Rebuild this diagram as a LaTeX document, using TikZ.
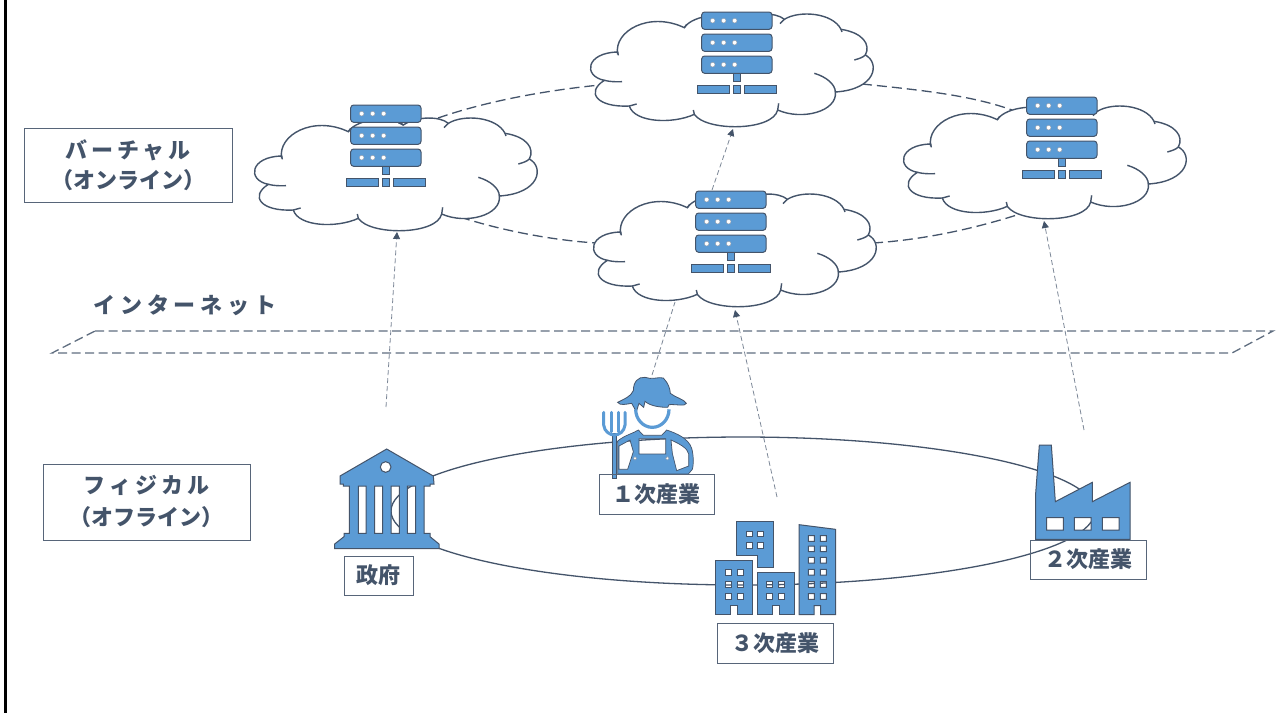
\documentclass[tikz,border=0pt]{standalone}
\usepackage{fontspec}
\setmainfont{Noto Sans CJK JP}
\usetikzlibrary{arrows.meta}
\definecolor{ink}{HTML}{44546A}
\definecolor{icon}{HTML}{5B9BD5}
\tikzset{
  lbl/.style={draw=ink!90,line width=1pt,text=ink,font=\bfseries\fontsize{22}{30}\selectfont,align=center,inner sep=0pt,minimum width=#1},
  outline/.style={draw=ink,line width=1.4pt,fill=white},
  inner line/.style={draw=ink,line width=1.4pt},
  iconshape/.style={draw=ink,line width=1pt,fill=icon,even odd rule},
  link/.style={draw=ink,line width=1.3pt,dash pattern=on 10pt off 5pt},
  planeline/.style={draw=ink!85,line width=1.3pt,dash pattern=on 9pt off 4.5pt},
  rise/.style={draw=ink!70,line width=.8pt,dash pattern=on 5pt off 3pt,-{Triangle[length=7pt,width=7pt,color=ink]}},
  zoomed/.style={x=.33333pt,y=-.33333pt},
}
% #1,#2 cloud offset, #3,#4 server offset
\newcommand{\cloudserver}[4]{%
\begin{scope}[shift={(#1+240,#2+90)},zoomed]
 \path[outline] (125,205) .. controls (112,135) and (220,75) .. (325,125)
   .. controls (350,85) and (460,75) .. (490,105)
   .. controls (530,78) and (600,78) .. (625,100)
   .. controls (670,72) and (770,80) .. (795,130)
   .. controls (860,140) and (885,175) .. (868,207)
   .. controls (912,230) and (902,310) .. (778,318)
   .. controls (785,375) and (680,405) .. (605,372)
   .. controls (590,436) and (390,437) .. (355,385)
   .. controls (290,415) and (175,410) .. (160,360)
   .. controls (65,365) and (27,320) .. (85,283)
   .. controls (20,270) and (30,200) .. (125,198)
   -- cycle;
 \path[inner line] (325,125) -- (332,115);
 \path[inner line] (490,105) -- (475,98);
 \path[inner line] (625,100) -- (612,113);
 \path[inner line] (795,130) -- (798,138);
 \path[inner line] (868,207) .. controls (860,215) and (848,218) .. (835,222);
 \path[inner line] (778,318) .. controls (778,295) and (750,272) .. (715,262);
 \path[inner line] (605,372) -- (608,352);
 \path[inner line] (355,385) -- (352,372);
 \path[inner line] (160,360) -- (182,354);
 \path[inner line] (85,283) .. controls (100,287) and (120,288) .. (138,287);
 \path[inner line] (125,198) -- (127,208);
\end{scope}
\begin{scope}[shift={(#3+240,#4+90)},zoomed]
 \foreach \y in {45,111,177}{
  \path[iconshape,rounded corners=3pt] (332,\y) rectangle (543,\y+52);
  \foreach \x in {365,398,431} \path[draw=ink!60,line width=.4pt,fill=white] (\x,\y+26) circle (7);
 }
 \path[iconshape] (427,229) rectangle (448,254);
 \path[iconshape] (318,266) rectangle (415,288);
 \path[iconshape] (427,266) rectangle (448,288);
 \path[iconshape] (460,266) rectangle (557,288);
\end{scope}}
\begin{document}
\begin{tikzpicture}[x=1pt,y=-1pt]
\useasboundingbox (0,0) rectangle (1287,713);
\fill[white] (0,0) rectangle (1287,713);
\fill[black] (4,0) rectangle (6.5,713);

% ring
\draw[ink,line width=1.3pt] (743,511) ellipse [x radius=352,y radius=74];

% links behind clouds
\coordinate (c1a) at (438,118); \coordinate (ta) at (600,85);
\coordinate (tb) at (862,84); \coordinate (ra) at (1012,110);
\coordinate (c1b) at (460,217); \coordinate (ma) at (596,243);
\coordinate (mb) at (873,243); \coordinate (rb) at (1020,214);
\draw[link] (c1a) .. controls (490,100) and (550,90) .. (ta);
\draw[link] (tb) .. controls (920,90) and (970,95) .. (ra);
\draw[link] (c1b) .. controls (500,230) and (550,240) .. (ma);
\draw[link] (mb) .. controls (920,240) and (970,230) .. (rb);

\cloudserver{0}{0}{0}{0}
\cloudserver{336}{-104}{351}{-93}
\cloudserver{339}{76}{345}{86}
\cloudserver{649}{-12}{676}{-8}

% rising arrows
\coordinate (govtop) at (386,407); \coordinate (c1bot) at (397,232);
\coordinate (midtop) at (712,190); \coordinate (topbot) at (733,129);
\coordinate (farmtop) at (652,375); \coordinate (midbot) at (675,302);
\coordinate (tertop) at (777,497); \coordinate (midbot2) at (735,310);
\coordinate (factop) at (1084,430); \coordinate (rbot) at (1044,221);
\draw[rise] (govtop) -- (c1bot);
\draw[rise] (midtop) -- (topbot);
\draw[rise,-] (farmtop) -- (midbot);
\draw[rise] (tertop) -- (midbot2);
\draw[rise] (factop) -- (rbot);

% internet plane
\coordinate (p1) at (95,331); \coordinate (p2) at (1273,331);
\coordinate (p3) at (1232,353); \coordinate (p4) at (52,353);
\draw[planeline] (p1) -- (p2) -- (p3) -- (p4) -- cycle;

% government
\begin{scope}[shift={(320,370)},zoomed]
 \path[iconshape] (200,237) -- (340,318) -- (342,342) -- (330,342) -- (330,348) -- (312,348) -- (312,490) -- (330,490) -- (330,500) -- (357,522) -- (357,536) -- (44,536) -- (44,522) -- (72,500) -- (72,490) -- (88,490) -- (88,348) -- (70,348) -- (70,342) -- (60,342) -- (60,318) -- cycle
  (115,348) rectangle (138,490) (164,348) rectangle (188,490) (213,348) rectangle (238,490) (262,348) rectangle (287,490)
  (197,291) circle (16);
\end{scope}

% farmer
\begin{scope}[shift={(595,370)},zoomed]
 \path[iconshape,line width=.8pt] (68,97) .. controls (85,88) and (108,80) .. (115,62)
   .. controls (115,35) and (130,20) .. (150,22) .. controls (170,30) and (190,20) .. (205,24)
   .. controls (220,40) and (225,55) .. (226,70) .. controls (240,82) and (268,88) .. (274,100)
   .. controls (272,110) and (240,102) .. (222,104) -- (218,112)
   .. controls (195,112) and (165,108) .. (150,94) -- (146,112) -- (132,100) -- (124,125) -- (110,100)
   .. controls (95,102) and (75,108) .. (68,97) -- cycle;
 \draw[icon,line width=3.2pt] (122,118) arc[start angle=180,end angle=360,x radius=50,y radius=-54];
 \path[iconshape,line width=.7pt] (68,213) .. controls (90,195) and (115,190) .. (130,180) -- (145,196) -- (200,196) -- (215,180)
   .. controls (245,190) and (280,205) .. (290,235) .. controls (296,255) and (296,285) .. (292,298) -- (280,312) -- (68,312) -- cycle
   (132,206) -- (212,206) -- (212,252) -- (132,252) -- cycle
   (72,228) -- (105,210) -- (115,245) -- (98,298) -- (72,298) -- cycle
   (228,210) .. controls (255,222) and (278,235) .. (281,252) -- (281,288) -- (245,302) -- (232,250) -- cycle;
 \path[fill=white,draw=ink!60,line width=.4pt] (120,265) circle (5) (217,265) circle (5);
 \path[iconshape,line width=.7pt] (51,190) rectangle (65,325);
 \draw[icon,line width=3pt,line cap=round] (26,127) -- (26,165) .. controls (28,185) and (45,195) .. (58,195) .. controls (72,195) and (88,185) .. (90,165) -- (90,127);
 \draw[icon,line width=3pt,line cap=round] (48,127) -- (48,185) (69,127) -- (69,185);
\end{scope}

% offices and factory
\begin{scope}[shift={(700,430)},zoomed]
 \path[iconshape] (110,275) -- (219,275) -- (219,411) -- (173,411) -- (173,375) -- (110,375) -- cycle
  (138,303) rectangle (156,320) (173,303) rectangle (191,320) (138,338) rectangle (156,355) (173,338) rectangle (191,355);
 \path[iconshape] (47,392) -- (157,392) -- (157,554) -- (112,554) -- (112,527) -- (92,527) -- (92,554) -- (47,554) -- cycle
  (75,419) rectangle (93,436) (111,419) rectangle (129,436) (75,455) rectangle (93,472) (111,455) rectangle (129,472) (75,491) rectangle (93,508) (111,491) rectangle (129,508);
 \path[iconshape] (172,428) -- (282,428) -- (282,554) -- (238,554) -- (238,527) -- (218,527) -- (218,554) -- (172,554) -- cycle
  (200,455) rectangle (218,472) (236,455) rectangle (254,472) (200,491) rectangle (218,508) (236,491) rectangle (254,508);
 \path[iconshape] (297,284) -- (407,298) -- (407,554) -- (362,554) -- (362,527) -- (342,527) -- (342,554) -- (297,554) -- cycle
  (325,317) rectangle (343,334) (361,317) rectangle (379,334)
  (325,348) rectangle (343,365) (361,348) rectangle (379,365)
  (325,382) rectangle (343,399) (361,382) rectangle (379,399)
  (325,418) rectangle (343,435) (361,418) rectangle (379,435)
  (325,455) rectangle (343,472) (361,455) rectangle (379,472)
  (325,491) rectangle (343,508) (361,491) rectangle (379,508);
 \path[iconshape] (1007,328) -- (1007,190) -- (1018,45) -- (1054,45) -- (1066,215) -- (1177,157) -- (1177,215) -- (1290,157) -- (1290,328) -- cycle
  (1040,263) rectangle (1090,300) (1123,263) rectangle (1173,300) (1207,263) rectangle (1257,300);
\end{scope}

% labels
\node[lbl=208pt,minimum height=74pt] (virt) at (128,165) {{\addfontfeature{LetterSpace=18}バーチャル}\\[0pt]（オンライン）};
\node[lbl=207pt,minimum height=76pt] (phys) at (146.5,502) {{\addfontfeature{LetterSpace=18}フィジカル}\\[2pt]（オフライン）};
\node[text=ink,font=\bfseries\fontsize{22}{26}\selectfont,inner sep=0pt] (net) at (185,305) {\addfontfeature{LetterSpace=22}インターネット};
\node[lbl=69pt,minimum height=39pt] (gov) at (378.5,575.5) {政府};
\node[lbl=115pt,minimum height=40pt] (ind1) at (656.5,494) {１次産業};
\node[lbl=116pt,minimum height=39pt] (ind2) at (1088,559.5) {２次産業};
\node[lbl=116pt,minimum height=40pt] (ind3) at (775,643) {３次産業};
\end{tikzpicture}
\end{document}
